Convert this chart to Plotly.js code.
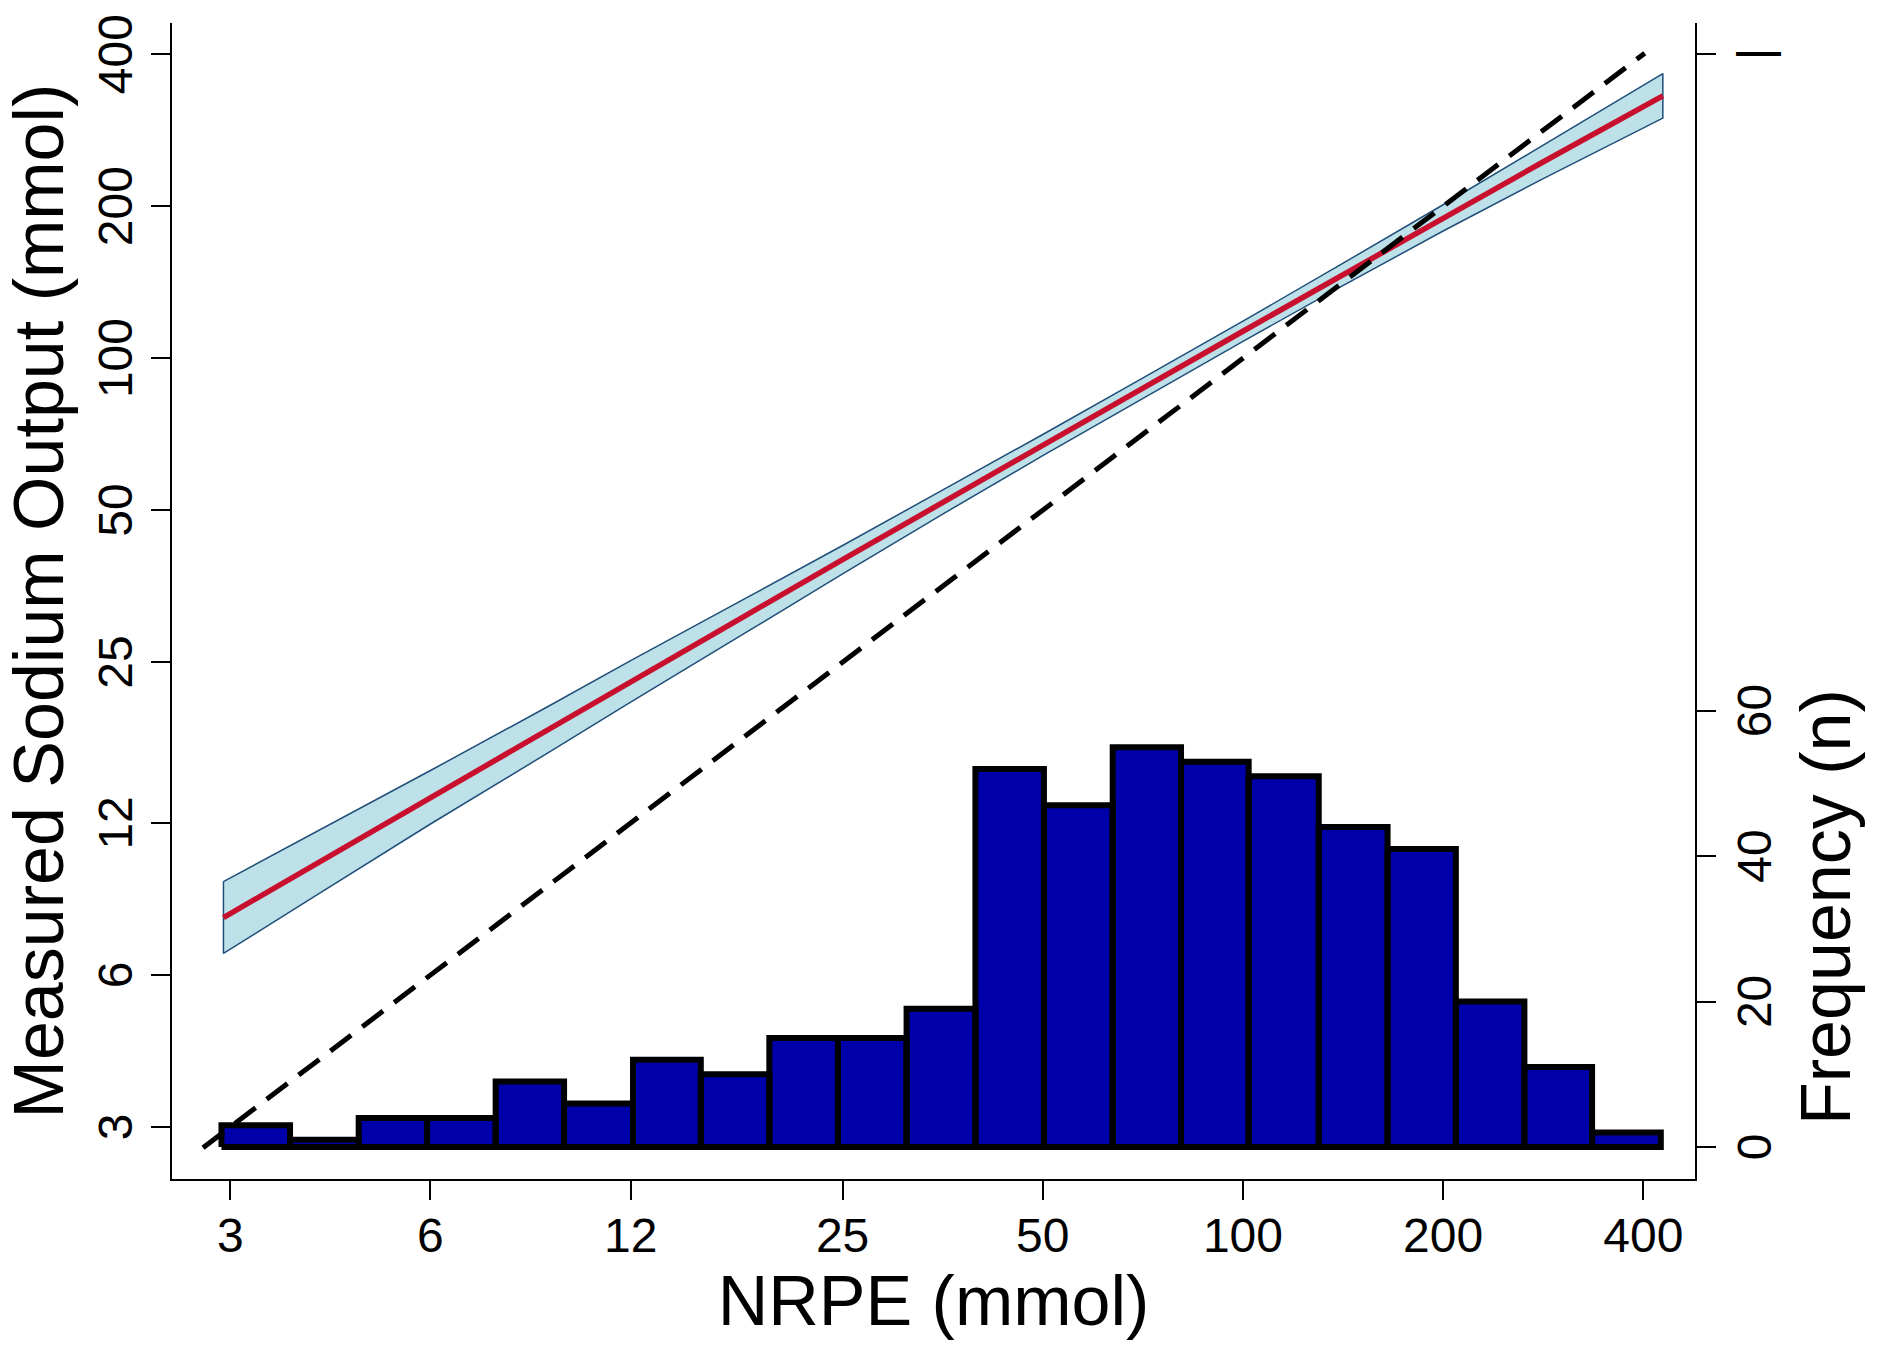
<!DOCTYPE html>
<html>
<head>
<meta charset="utf-8">
<script src="https://cdn.plot.ly/plotly-3.0.1.min.js"></script>
<style>
  html, body { margin: 0; padding: 0; background: #ffffff; }
  #chart { width: 1885px; height: 1346px; }
</style>
</head>
<body>
<div id="chart"></div>
<script>
// ---------- data ----------
// histogram of NRPE (bin edges in mmol, counts n)
const binEdges = [2.91, 3.69, 4.68, 5.93, 7.52, 9.53, 12.1, 15.3, 19.4, 24.6, 31.2,
                  39.6, 50.2, 63.7, 80.7, 102, 130, 165, 209, 265, 335, 425];
const binCounts = [3, 1, 4, 4, 9, 6, 12, 10, 15, 15, 19, 52, 47, 55, 53, 51, 44, 41, 20, 11, 2];

// fitted relationship with confidence band (mmol)
const fitX     = [2.93, 4, 6, 9, 12, 18, 25, 35, 50, 70, 100, 140, 200, 280, 428];
const fitY     = [7.8, 9.9, 13.5, 18.35, 22.9, 31.1, 39.9, 51.5, 67.3, 86.6, 113.1, 145.5, 189.7, 243.1, 331];
const fitUpper = [9.19, 11.45, 15.25, 20.40, 25.17, 33.63, 42.56, 54.43, 70.63, 90.68, 118.43, 153.07, 201.41, 262.28, 366.3];
const fitLower = [6.62, 8.56, 11.95, 16.51, 20.84, 28.76, 37.41, 48.73, 64.13, 82.70, 108.01, 138.31, 178.67, 225.32, 299.1];

// line of identity
const identityX = [2.73, 402];
const identityY = [2.73, 402];

// tick labels
const xTicks = [3, 6, 12, 25, 50, 100, 200, 400];
const yTicks = [3, 6, 12, 25, 50, 100, 200, 400];
const freqTicks = [0, 20, 40, 60, 150.3];
const freqTickText = ['0', '20', '40', '60', '|'];

// ---------- build traces ----------
const barX = [], barY = [];
for (let i = 0; i < binCounts.length; i++) {
  const a = binEdges[i], b = binEdges[i + 1], c = binCounts[i];
  barX.push(a, a, b, b, a, null);
  barY.push(0, c, c, 0, 0, null);
}

const bandX = fitX.concat(fitX.slice().reverse(), [fitX[0]]);
const bandY = fitUpper.concat(fitLower.slice().reverse(), [fitUpper[0]]);

const FONT = 'Liberation Sans, Arial, sans-serif';

const traces = [
  { // histogram (frequency axis)
    type: 'scatter', mode: 'lines', x: barX, y: barY,
    xaxis: 'x', yaxis: 'y',
    fill: 'toself', fillcolor: '#0000AA',
    line: { color: '#000000', width: 6 },
    connectgaps: false, hoverinfo: 'skip', showlegend: false
  },
  { // confidence band
    type: 'scatter', mode: 'lines', x: bandX, y: bandY,
    xaxis: 'x', yaxis: 'y2',
    fill: 'toself', fillcolor: 'rgb(190,224,232)',
    line: { color: '#1F4E79', width: 1.5 },
    hoverinfo: 'skip', showlegend: false
  },
  { // fitted line
    type: 'scatter', mode: 'lines', x: fitX, y: fitY,
    xaxis: 'x', yaxis: 'y2',
    line: { color: '#C8102E', width: 5.5 },
    showlegend: false
  },
  { // identity
    type: 'scatter', mode: 'lines', x: identityX, y: identityY,
    xaxis: 'x', yaxis: 'y2',
    line: { color: '#000000', width: 5, dash: '26px,14px' },
    showlegend: false
  }
];

const axisCommon = {
  showgrid: false, zeroline: false,
  showline: true, linecolor: '#000000', linewidth: 2,
  ticks: 'outside', ticklen: 19, tickwidth: 2, tickcolor: '#000000',
  tickfont: { family: FONT, size: 48, color: '#000000' },
  automargin: false
};

const layout = {
  width: 1885, height: 1346,
  paper_bgcolor: '#ffffff', plot_bgcolor: '#ffffff',
  margin: { l: 172, r: 190, t: 23, b: 167, pad: 0 },
  showlegend: false,
  xaxis: Object.assign({}, axisCommon, {
    type: 'log', range: [0.3895, 2.6798],
    tickmode: 'array', tickvals: xTicks, ticktext: xTicks.map(String),
    ticklabelstandoff: -6,
    title: { text: 'NRPE (mmol)', font: { family: FONT, size: 70, color: '#000000' }, standoff: 1 }
  }),
  yaxis: Object.assign({}, axisCommon, {
    side: 'right', range: [-4.40, 154.6],
    tickmode: 'array', tickvals: freqTicks, ticktext: freqTickText, tickangle: -90,
    ticklabelstandoff: -3, ticklabelshift: 7
  }),
  yaxis2: Object.assign({}, axisCommon, {
    type: 'log', side: 'left', overlaying: 'y', range: [0.3741, 2.6641],
    tickmode: 'array', tickvals: yTicks, ticktext: yTicks.map(String), tickangle: -90,
    ticklabelshift: 7,
    title: { text: 'Measured Sodium Output (mmol)', font: { family: FONT, size: 70, color: '#000000' }, standoff: 6 }
  }),
  annotations: [{
    text: 'Frequency (n)', textangle: -90,
    xref: 'paper', yref: 'paper', x: 1.086, y: 0.2353,
    xanchor: 'center', yanchor: 'middle', showarrow: false,
    font: { family: FONT, size: 70, color: '#000000' }
  }]
};

Plotly.newPlot('chart', traces, layout, { displayModeBar: false, staticPlot: true });
</script>
</body>
</html>
